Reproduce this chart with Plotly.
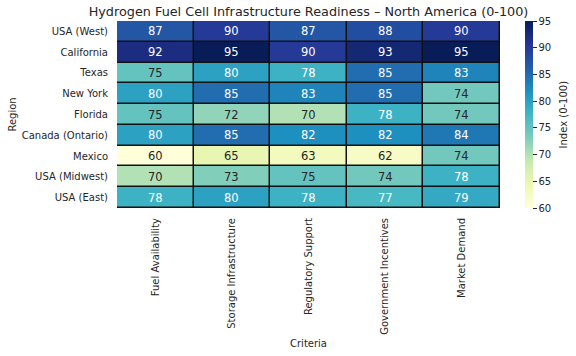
import plotly.graph_objects as go

regions = ["USA (West)", "California", "Texas", "New York", "Florida",
           "Canada (Ontario)", "Mexico", "USA (Midwest)", "USA (East)"]
criteria = ["Fuel Availability", "Storage Infrastructure", "Regulatory Support",
            "Government Incentives", "Market Demand"]
fuel_availability = [87, 92, 75, 80, 75, 80, 60, 70, 78]
storage_infrastructure = [90, 95, 80, 85, 72, 85, 65, 73, 80]
regulatory_support = [87, 90, 78, 83, 70, 82, 63, 75, 78]
government_incentives = [88, 93, 85, 85, 78, 82, 62, 74, 77]
market_demand = [90, 95, 83, 74, 74, 84, 74, 78, 79]

columns = [fuel_availability, storage_infrastructure, regulatory_support,
           government_incentives, market_demand]
z = [[col[i] for col in columns] for i in range(len(regions))]

ylgnbu = ["#ffffd9", "#edf8b1", "#c7e9b4", "#7fcdbb", "#41b6c4",
          "#1d91c0", "#225ea8", "#253494", "#081d58"]
colorscale = [[i / (len(ylgnbu) - 1), c] for i, c in enumerate(ylgnbu)]

FONT = "DejaVu Sans"
DARK = "#262626"

fig = go.Figure(go.Heatmap(
    z=z, x=criteria, y=regions,
    colorscale=colorscale, zmin=60, zmax=95,
    xgap=1.5, ygap=1.5,
    colorbar=dict(
        thickness=8, len=1, lenmode="fraction", y=0.5, yanchor="middle",
        x=1.065, xanchor="left", xpad=0, ypad=0, outlinewidth=0,
        ticks="outside", ticklen=4, tickcolor=DARK,
        tickvals=[60, 65, 70, 75, 80, 85, 90, 95],
        tickfont=dict(family=FONT, size=10, color=DARK),
    ),
    hoverinfo="skip",
))

annotations = []
for i, r in enumerate(regions):
    for j, c in enumerate(criteria):
        v = z[i][j]
        annotations.append(dict(
            x=c, y=r, text=str(v), showarrow=False,
            font=dict(family=FONT, size=11.5, color="white" if v >= 76 else DARK),
        ))
annotations.append(dict(
    text="Index (0-100)", xref="paper", yref="paper", x=1.167, y=0.5,
    xanchor="center", yanchor="middle", textangle=-90, showarrow=False,
    font=dict(family=FONT, size=10, color=DARK),
))

fig.update_layout(
    width=576, height=356,
    margin=dict(l=117, r=76, t=21, b=148, autoexpand=False),
    paper_bgcolor="white", plot_bgcolor="#111111",
    font=dict(family=FONT, size=10, color=DARK),
    title=dict(text="Hydrogen Fuel Cell Infrastructure Readiness – North America (0-100)",
               x=0.5, xref="paper", xanchor="center", y=1 - 11.5 / 356,
               yref="container", yanchor="middle",
               font=dict(family=FONT, size=12.8, color=DARK)),
    annotations=annotations,
    showlegend=False,
)
fig.update_xaxes(tickangle=-90, showgrid=False, zeroline=False, automargin=False,
                 ticks="outside", ticklen=5, tickcolor="rgba(0,0,0,0)",
                 tickfont=dict(family=FONT, size=10, color=DARK),
                 title=dict(text="Criteria", standoff=6,
                            font=dict(family=FONT, size=10, color=DARK)))
fig.update_yaxes(autorange="reversed", showgrid=False, zeroline=False, automargin=False,
                 ticks="outside", ticklen=6, tickcolor="rgba(0,0,0,0)",
                 tickfont=dict(family=FONT, size=10, color=DARK),
                 title=dict(text="Region", standoff=3,
                            font=dict(family=FONT, size=10, color=DARK)))

fig.write_html("out.html", config={"displayModeBar": False},
               post_script="document.body.style.margin='0px';")
